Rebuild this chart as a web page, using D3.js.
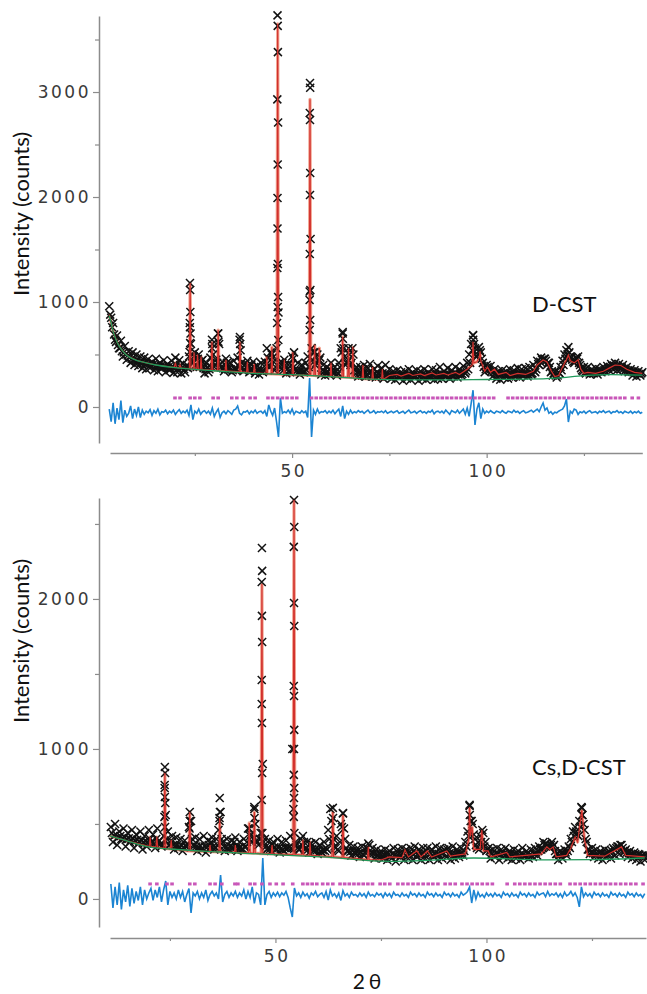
<!DOCTYPE html>
<html>
<head>
<meta charset="utf-8">
<script src="https://cdn.jsdelivr.net/npm/d3@7"></script>
<style>
  body { margin: 0; background: #fff; }
  .tick text { font-family: 'DejaVu Sans', sans-serif; font-size: 17px; fill: #3a3a3a; letter-spacing: 2.5px; }
  .domain { stroke: #8c8c8c; stroke-width: 1.5; }
  .tick line { stroke: #8c8c8c; stroke-width: 1.2; }
  .lbl { font-family: Lato, 'DejaVu Sans', sans-serif; fill: #111; }
</style>
</head>
<body>
<svg id="vis" width="647" height="994"></svg>
<script>
// step of the measured patterns (degrees 2theta); two interleaved scans, offset by half a step
var step = 0.5

// ---------- D-CST (top) ----------
var startTop = 3
var obsTop = [
  960,850,800,640,680,560,630,480,580,450,
  530,420,520,400,500,390,480,370,470,360,
  455,372,430,350,460,340,420,365,445,330,
  410,350,440,325,470,330,445,320,415,330,
  400,480,600,430,520,380,500,410,450,320,
  420,330,470,600,380,450,700,400,430,340,
  460,360,420,330,440,350,470,640,420,340,
  410,440,330,400,430,320,395,310,420,330,
  430,560,400,520,470,350,560,900,380,420,
  450,320,400,330,480,520,340,420,310,400,
  330,420,480,1100,560,520,400,500,450,310,
  400,300,380,310,420,330,380,300,420,560,
  700,480,420,560,400,560,350,380,290,380,
  300,400,290,370,410,290,360,280,390,300,
  370,270,400,290,360,270,340,260,350,280,
  330,250,340,270,360,260,330,280,350,250,
  340,270,360,260,330,280,360,260,350,270,
  380,270,340,290,370,270,350,290,380,280,
  360,300,390,320,420,500,600,680,560,480,
  570,520,420,330,400,360,390,290,360,270,
  340,260,350,280,340,270,360,280,350,290,
  370,280,360,300,370,290,380,310,400,330,
  440,400,470,440,460,400,420,330,300,340,
  280,330,380,440,500,540,570,480,450,420,
  470,480,400,350,380,320,380,310,360,320,
  370,310,360,330,380,340,390,350,410,360,
  420,350,410,360,400,340,380,330,360,300,
  350,290,340,300,330
]
var obsTop2 = [
  880,760,690,620,590,560,530,520,500,490,
  470,460,450,445,440,430,425,420,415,410,
  410,400,405,390,395,385,390,380,385,375,
  380,370,385,370,400,365,400,375,360,380,
  370,760,420,480,400,460,380,440,370,360,
  370,360,380,500,400,420,600,380,370,360,
  420,370,360,350,370,360,390,540,380,350,
  380,400,360,350,380,340,350,345,340,350,
  400,470,380,500,430,380,1700,420,360,350,
  400,360,340,400,460,360,350,340,345,335,
  340,350,380,1600,450,520,420,440,470,350,
  340,330,335,360,340,330,335,325,380,520,
  560,400,430,500,420,500,360,330,325,320,
  360,320,310,330,340,310,315,305,320,310,
  320,300,310,305,300,310,300,305,295,300,
  300,310,295,305,310,300,305,295,310,300,
  305,300,310,295,305,310,300,315,305,300,
  315,305,310,300,315,305,310,320,315,310,
  320,315,330,340,360,420,540,600,480,500,
  540,460,380,360,380,350,340,330,320,315,
  315,310,320,310,305,310,315,305,320,310,
  320,315,310,320,315,310,325,320,340,360,
  410,430,450,460,440,420,380,340,320,300,
  300,320,350,400,460,500,520,470,430,440,
  460,420,370,340,330,335,330,325,330,335,
  330,340,335,345,350,360,370,380,390,395,
  390,385,380,375,365,355,345,340,335,330,
  325,320,315,320
]
var diffTop = [
  -20,-140,40,-160,-10,-120,60,-150,-30,-90,
  -60,10,-110,-20,-80,0,-100,-30,-70,-40,
  -55,-25,-80,-35,-60,-20,-75,-45,-50,-30,
  -65,-40,-55,-30,-70,-45,-25,-60,-40,-55,
  -30,-80,20,-120,-40,-60,-20,-70,-45,-35,
  -60,-40,-70,-10,-90,-50,-20,-100,-55,-40,
  -65,-35,-50,-70,-30,-20,10,-60,-75,-45,
  -50,-35,-65,-40,-55,-30,-60,-45,-40,-60,
  -35,-90,20,-40,-80,-10,-140,-286,86,-60,
  -45,-55,-30,-60,-20,-70,-40,-50,-60,-35,
  -55,-40,-100,276,-286,-30,-70,-20,-60,-45,
  -50,-35,-60,-40,-55,-30,-65,-40,-20,-90,
  10,-110,-40,-70,-30,-60,-45,-55,-35,-50,
  -40,-60,-45,-30,-55,-50,-35,-60,-45,-50,
  -40,-55,-35,-60,-50,-40,-55,-45,-35,-60,
  -50,-40,-60,-45,-30,-55,-50,-40,-60,-45,
  -35,-55,-45,-60,-40,-50,-30,-65,-45,-40,
  -55,-40,-60,-30,-50,-70,-35,-45,-55,-30,
  -60,-40,-20,-70,-10,-90,30,160,-171,-20,
  40,-110,-20,-60,-40,-55,-35,-50,-60,-40,
  -45,-55,-35,-50,-60,-40,-45,-55,-30,-50,
  -40,-60,-45,-35,-55,-50,-40,-30,-50,-35,
  -20,-45,0,38,-30,-10,-60,-45,-70,-50,
  -55,-40,-30,-20,10,76,-143,-40,-60,-20,
  -30,-70,-45,-55,-40,-60,-45,-35,-55,-50,
  -45,-60,-40,-50,-35,-55,-45,-40,-60,-45,
  -50,-35,-55,-45,-60,-40,-50,-55,-40,-60,
  -45,-55,-40,-60,-50
]
// extra observed points on the sharp peaks [2theta, counts]
var peakObsTop = [
  [23.75,1181],[23.8,1114],[23.85,905],[23.7,800],[23.9,700],[23.8,610],[23.65,524],
  [29.4,640],[29.45,560],[30.95,700],[31.05,620],[36.6,667],[36.65,600],
  [46.25,3730],[46.3,3630],[46.35,3380],[46.2,2930],[46.4,2710],[46.3,2310],[46.25,1990],
  [46.35,1362],[46.2,1324],[46.4,1048],[46.3,952],[46.15,800],[46.45,638],
  [54.6,3086],[54.65,3040],[54.55,2800],[54.6,2733],[54.65,2229],[54.6,2019],
  [54.55,1457],[54.7,1114],[54.5,1019],[54.65,829],[54.5,733],
  [63.0,715],[63.05,650],[96.5,686],[96.55,640]
]
var calcTop = [
  [3,880],[3.5,800],[4,720],[5,620],[6,555],[7,510],[8,480],[10,445],[12,425],[15,400],
  [19.7,377],[20,420],[20.3,376],[20.9,372],[21.2,400],[21.5,371],[23.6,365],[23.8,1180],[24,364],
  [24.6,362],[24.8,520],[25,361],[25.5,360],[25.7,500],[25.9,359],[26.4,358],[26.6,480],[26.8,357],
  [29.2,352],[29.4,620],[29.6,351],[30.8,349],[31,733],[31.2,348],[32.8,345],[33,450],[33.2,344],
  [36.4,335],[36.6,620],[36.8,334],[38.3,330],[38.5,430],[38.7,329],[40.1,325],[40.3,410],[40.5,324],
  [43.3,318],[43.5,480],[43.7,318],[44.6,316],[44.8,571],[45,315],[46.1,312],[46.3,3650],[46.5,312],
  [47.8,309],[48,450],[48.2,308],[50,305],[50.2,520],[50.4,305],[54.4,302],[54.6,2930],[54.8,302],
  [55.6,300],[55.8,590],[56,299],[56.8,298],[57,562],[57.2,297],[59.8,292],[60,420],[60.2,291],
  [62.8,285],[63,667],[63.2,284],[64.3,282],[64.5,560],[64.7,281],[65.4,279],[65.6,571],[65.8,278],
  [68,270],[68.2,400],[68.4,269],[70.5,265],[70.7,380],[70.9,265],[73,262],[73.2,360],[73.4,262],
  [75,300],[77,310],[78,295],[80,320],[81,300],[83,315],[84,300],[86,325],[87,305],[89,320],[90,305],
  [92,330],[93,310],[95,360],[96.3,400],[96.5,620],[96.7,420],[97.5,430],[98.1,470],[98.3,530],[98.5,440],
  [99.5,340],[100.2,380],[101,330],[102,360],[103,310],[105,330],[106,300],[108,320],[110,310],[112,340],
  [113,400],[114.5,448],[115.5,430],[116.5,350],[117.5,290],[118.5,300],[119.5,380],[120.5,450],[121,495],
  [121.5,440],[122.5,420],[123.5,450],[124.2,360],[125,320],[126,330],[128,320],[130,340],[131.5,370],
  [133,400],[134.5,395],[136,360],[138,330],[140,320]
]
var bgTop = [
  [3,870],[3.5,800],[4,720],[5,620],[6,555],[7,510],[8,480],[10,445],[12,425],[15,400],[20,375],
  [25,358],[30,345],[40,320],[50,308],[60,290],[70,265],[80,258],[90,258],[100,262],[110,265],
  [118,275],[125,298],[132,308],[140,303]
]
var reflTop = [
  19.9,21.2,23.8,25.0,26.3,29.7,31.0,34.5,35.8,37.4,39.2,40.5,
  43.8,45.0,46.3,47.5,48.7,50.0,51.2,
  55.0,56.2,57.4,58.6,59.8,61.0,62.2,63.4,64.6,65.8,67.0,68.2,69.4,70.6,71.8,73.0,74.2,75.4,
  76.6,77.8,79.0,80.2,81.4,82.6,83.8,85.0,86.2,87.4,88.6,89.8,91.0,92.2,93.4,94.6,95.8,97.0,
  98.2,99.4,100.6,101.8,105.5,106.7,107.9,109.1,110.3,111.5,112.7,113.9,115.1,116.3,117.5,
  118.7,119.9,121.1,122.3,123.5,124.7,125.9,127.1,128.3,129.5,130.7,131.9,133.1,134.3,135.5,
  137.4,139.0
]

// ---------- Cs,D-CST (bottom) ----------
var startBottom = 11
var obsBottom = [
  480,380,500,360,450,400,470,350,440,380,
  460,340,430,370,450,330,420,350,460,380,
  430,340,470,390,350,420,560,450,360,420,
  330,410,340,400,320,390,350,480,520,360,
  410,320,400,330,420,310,390,340,410,330,
  400,460,580,380,320,400,330,390,340,410,
  320,380,330,400,350,470,420,380,600,390,
  360,440,900,400,330,390,320,380,330,400,
  310,380,320,390,340,420,1000,440,360,330,
  400,420,330,380,310,370,320,380,300,360,
  310,380,340,460,600,380,350,420,320,500,
  570,400,320,360,290,350,300,340,280,350,
  290,340,370,300,340,270,330,280,320,270,
  330,260,320,270,340,250,330,280,340,260,
  330,270,340,260,350,280,330,260,340,270,
  340,260,330,280,350,260,340,270,330,280,
  340,260,350,270,330,280,340,290,380,450,
  620,520,430,360,380,420,460,350,320,340,
  270,330,280,340,260,330,280,340,270,320,
  260,330,270,320,260,340,280,320,270,330,
  280,340,290,350,330,380,370,360,340,380,
  360,300,260,320,270,330,290,350,400,450,
  480,430,520,613,500,400,330,300,340,280,
  330,270,320,260,330,280,320,270,340,290,
  350,300,360,310,330,280,320,270,310,260,
  300,250,290,260
]
var obsBottom2 = [
  440,420,430,410,420,405,410,400,405,395,
  400,390,395,385,390,380,385,375,400,380,
  370,400,380,365,360,760,400,360,390,360,
  355,360,350,355,345,350,360,520,400,355,
  350,345,355,340,350,345,360,380,350,345,
  360,540,400,350,345,340,350,345,380,345,
  340,345,335,345,380,470,430,400,500,380,
  400,1300,380,350,340,335,360,345,335,340,
  335,330,340,335,345,340,600,380,340,330,
  360,380,340,330,370,335,330,325,330,320,
  325,320,330,400,520,400,340,330,380,480,
  470,340,320,315,320,310,315,305,310,300,
  310,340,360,310,305,300,295,300,290,295,
  300,295,290,300,295,290,300,295,310,320,
  300,295,305,320,310,300,295,300,310,320,
  310,300,295,300,295,300,305,310,320,330,
  305,300,295,300,305,300,310,320,350,420,
  520,500,400,340,330,380,440,380,330,320,
  300,295,305,300,295,310,305,300,295,300,
  295,300,295,290,300,295,290,300,295,290,
  300,310,320,330,340,360,370,350,360,350,
  320,300,295,300,305,310,320,340,380,420,
  450,420,480,560,460,380,330,310,305,300,
  300,305,300,295,300,305,310,320,330,340,
  350,360,340,320,310,305,300,295,300,290,
  295,290,285,290
]
var diffBottom = [
  100,-60,80,-40,110,-70,60,-20,90,-50,
  70,-30,50,-10,80,-40,60,0,40,70,
  -10,60,10,80,-20,60,120,-40,50,10,
  40,0,60,10,50,-20,30,70,-93,40,
  20,50,0,40,10,60,-10,30,50,20,
  40,0,160,-20,30,50,10,40,20,50,
  10,40,20,60,0,50,10,80,-30,40,
  30,-40,273,-40,30,50,10,40,20,45,
  15,40,25,50,10,-60,-120,73,20,40,
  10,45,20,35,5,40,25,50,15,30,
  40,10,50,-7,60,20,35,10,40,-10,
  55,20,35,10,45,25,30,15,40,20,
  35,10,45,20,30,15,40,25,35,10,
  40,20,35,10,45,25,30,15,40,20,
  30,10,45,25,35,15,40,20,30,10,
  45,25,35,15,40,20,30,10,45,25,
  35,15,40,20,30,10,45,25,35,50,
  80,-27,60,0,45,15,30,10,40,20,
  35,15,40,20,30,10,45,25,35,15,
  40,20,30,10,45,25,35,15,40,20,
  30,10,45,25,35,40,15,50,20,35,
  25,40,15,35,10,45,20,30,50,20,
  40,10,-53,80,15,40,20,35,10,45,
  25,35,15,40,20,30,10,45,25,35,
  15,40,20,30,10,45,25,35,15,40,
  20,30,10,35
]
var peakObsBottom = [
  [23.8,880],[23.85,840],[23.75,740],[23.8,680],[23.9,640],[23.7,547],[23.85,480],
  [29.7,580],[29.75,520],[29.65,470],[36.8,673],[36.85,580],[36.75,520],[45.0,613],[45.05,540],
  [46.8,2340],[46.85,2187],[46.75,2113],[46.8,1887],[46.85,1713],[46.75,1460],[46.8,1173],
  [46.85,840],[46.75,660],[46.9,440],
  [54.4,2660],[54.45,2480],[54.35,2347],[54.4,1973],[54.45,1820],[54.35,1420],[54.4,1353],
  [54.45,1127],[54.4,1000],[54.35,827],[54.45,740],[54.4,673],[54.35,547],
  [63.6,607],[63.65,540],[66.0,573],[96.0,627],[96.05,560],[122.6,607],[122.65,560]
]
var calcBottom = [
  [10.8,420],[15,385],[20,350],[20.1,350],[20.3,413],[20.5,350],[21.7,346],[21.9,413],[22.1,345],
  [23.6,338],[23.8,840],[24,337],[25.1,333],[25.3,393],[25.5,332],[29.5,320],[29.7,580],[29.9,320],
  [34.3,315],[34.5,360],[34.7,315],[36.6,313],[36.8,540],[37,313],[40.3,310],[40.5,360],[40.7,310],
  [43.6,307],[43.8,507],[44,307],[44.8,305],[45,580],[45.2,305],[46.6,302],[46.8,2100],[47,302],
  [49,300],[49.2,360],[49.4,300],[54.2,295],[54.4,2660],[54.6,295],[56.3,292],[56.5,393],[56.7,292],
  [58,290],[58.2,380],[58.4,290],[63.4,280],[63.6,580],[63.8,280],[65.8,275],[66,560],[66.2,275],
  [71.8,262],[72,347],[72.2,262],[75,260],[77,280],[80,275],[80.7,327],[81.5,280],[83.5,320],
  [84.5,280],[86,320],[87,280],[90.6,320],[91.5,285],[95,300],[95.8,400],[96,613],[96.2,420],
  [96.6,480],[97,330],[98.5,330],[98.9,460],[99.3,320],[100.4,320],[101,280],[104.8,310],[105.5,280],
  [113,300],[114.3,347],[115,330],[115.8,347],[116.5,280],[119,290],[120,340],[121,413],[121.6,380],
  [122.6,593],[123.2,400],[124,290],[128,285],[132,347],[133,290],[137.5,280]
]
var bgBottom = [
  [10.8,420],[15,385],[20,347],[25,333],[37,313],[46,300],[61,280],[77,250],[85,255],
  [97,273],[114,260],[125,262],[137.5,273]
]
var reflBottom = [
  20.3,21.9,24.3,25.5,29.7,30.9,34.5,35.7,37.3,40.4,41.1,44.0,45.1,46.8,48.7,50.2,51.8,
  54.1,56.5,57.6,58.7,59.8,61.2,62.4,63.6,65.3,66.4,67.5,68.6,69.7,70.8,71.9,73.0,74.8,75.9,
  77.1,79.0,80.2,81.4,82.6,83.8,85.0,86.2,87.3,88.5,90.2,91.4,92.6,94.2,95.4,96.6,97.8,99.0,
  100.2,101.4,104.9,106.7,107.9,109.1,110.3,111.5,112.7,113.9,115.1,116.3,117.5,119.8,121.0,
  122.2,123.4,124.6,125.8,127.0,128.2,129.4,130.6,131.8,133.0,134.2,135.4,137.1
]

var svg = d3.select('#vis')

var panels = [
  { obs: obsTop, obs2: obsTop2, start: startTop, diff: diffTop, peaks: peakObsTop, calc: calcTop, bg: bgTop,
    refl: reflTop, reflLevel: 86, name: 'D-CST',
    xDomain: [3.2, 140], xRange: [110, 642.3], yDomain: [-343, 3724], yRange: [443, 16],
    xAxisY: 453, yAxisX: 99, yMajor: [0, 1000, 2000, 3000], yMinor: [500, 1500, 2500, 3500],
    namePos: [532, 312], titleY: 214 },
  { obs: obsBottom, obs2: obsBottom2, start: startBottom, diff: diffBottom, peaks: peakObsBottom, calc: calcBottom, bg: bgBottom,
    refl: reflBottom, reflLevel: 100, name: 'Cs,D-CST',
    xDomain: [10.8, 137.8], xRange: [110, 646], yDomain: [-187, 2673], yRange: [927, 498],
    xAxisY: 938, yAxisX: 99, yMajor: [0, 1000, 2000], yMinor: [500, 1500, 2500],
    namePos: [532, 775], titleY: 641 }
]

var cross = 'M-4,-4L4,4M-4,4L4,-4'

panels.forEach(function(p) {
  var x = d3.scaleLinear().domain(p.xDomain).range(p.xRange)
  var y = d3.scaleLinear().domain(p.yDomain).range(p.yRange)
  var g = svg.append('g')

  var line = d3.line().x(function(d) { return x(d[0]) }).y(function(d) { return y(d[1]) })

  var obsPts = p.obs.map(function(v, i) { return [p.start + i * step, v] })
    .concat(p.obs2.map(function(v, i) { return [p.start + step / 2 + i * step, v] }))
    .concat(p.peaks)
  var diffPts = p.diff.map(function(v, i) { return [p.start + i * step, v] })

  // calc halo
  g.append('path').datum(p.calc)
    .attr('d', line).attr('fill', 'none')
    .attr('stroke', '#f2a592').attr('stroke-width', 3.2).attr('stroke-linejoin', 'round')

  // observed
  g.append('g').selectAll('path')
    .data(obsPts)
    .enter().append('path')
      .attr('d', cross)
      .attr('transform', function(d) { return 'translate(' + x(d[0]) + ',' + y(d[1]) + ')' })
      .attr('stroke', '#121212').attr('stroke-width', 1.5)

  // calc
  g.append('path').datum(p.calc)
    .attr('d', line).attr('fill', 'none')
    .attr('stroke', '#d2302c').attr('stroke-width', 1.2)

  // background
  g.append('path').datum(p.bg)
    .attr('d', line.curve(d3.curveMonotoneX)).attr('fill', 'none')
    .attr('stroke', '#1f9a5a').attr('stroke-width', 1.3)
  line.curve(d3.curveLinear)

  // difference
  g.append('path').datum(diffPts)
    .attr('d', line).attr('fill', 'none')
    .attr('stroke', '#1b84d2').attr('stroke-width', 1.6)

  // reflection markers
  g.append('g').selectAll('rect')
    .data(p.refl)
    .enter().append('rect')
      .attr('x', function(d) { return x(d) - 1.8 })
      .attr('y', y(p.reflLevel) - 1.5)
      .attr('width', 3.6).attr('height', 3)
      .attr('fill', '#c957b9')

  // axes
  var xa = g.append('g').attr('transform', 'translate(0,' + p.xAxisY + ')')
    .call(d3.axisBottom(x).tickValues([50, 100]).tickSize(5).tickSizeOuter(0).tickPadding(7))
  xa.selectAll('.tick text').attr('dx', 1.2)
  g.append('g').attr('transform', 'translate(0,' + p.xAxisY + ')')
    .call(d3.axisBottom(x).tickValues([25, 75, 125]).tickSize(3).tickFormat(''))
    .select('.domain').remove()

  var ya = g.append('g').attr('transform', 'translate(' + p.yAxisX + ',0)')
    .call(d3.axisLeft(y).tickValues(p.yMajor).tickSize(6).tickSizeOuter(0).tickFormat(d3.format('d')))
  ya.selectAll('.tick text').attr('x', -8)
  g.append('g').attr('transform', 'translate(' + p.yAxisX + ',0)')
    .call(d3.axisLeft(y).tickValues(p.yMinor).tickSize(4).tickFormat(''))
    .select('.domain').remove()

  // labels
  g.append('text').attr('class', 'lbl')
    .attr('transform', 'translate(29,' + p.titleY + ') rotate(-90)')
    .attr('text-anchor', 'middle').attr('font-size', 22)
    .text('Intensity (counts)')

  g.append('text').attr('class', 'lbl')
    .attr('x', p.namePos[0]).attr('y', p.namePos[1])
    .attr('font-size', 22)
    .text(p.name)
})

svg.append('text').attr('class', 'lbl')
  .attr('x', 369).attr('y', 989)
  .attr('text-anchor', 'middle').attr('font-size', 21).attr('letter-spacing', 4)
  .text('2θ')
</script>
</body>
</html>
